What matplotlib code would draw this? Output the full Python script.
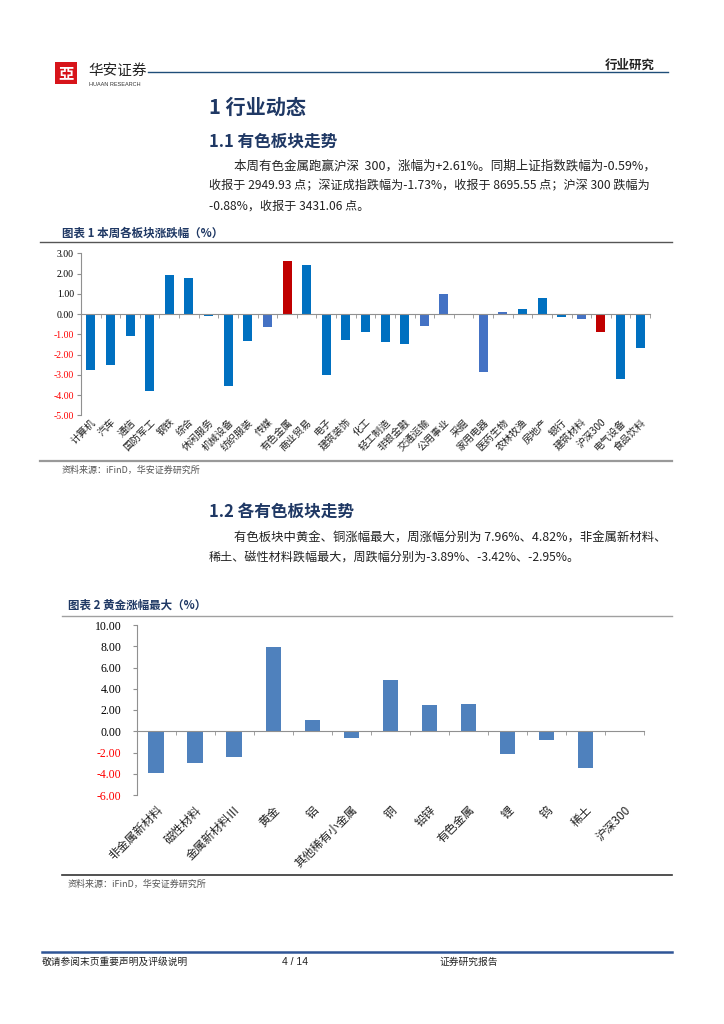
import matplotlib.pyplot as plt
from matplotlib.patches import Rectangle
from matplotlib.lines import Line2D
import numpy as np

plt.rcParams['font.family'] = ['Noto Sans CJK SC', 'DejaVu Sans']

# ---- data ----
sectors = ['计算机', '汽车', '通信', '国防军工', '钢铁', '综合', '休闲服务', '机械设备',
           '纺织服装', '传媒', '有色金属', '商业贸易', '电子', '建筑装饰', '化工', '轻工制造',
           '非银金融', '交通运输', '公用事业', '采掘', '家用电器', '医药生物', '农林牧渔',
           '房地产', '银行', '建筑材料', '沪深300', '电气设备', '食品饮料']
sector_chg = [-2.74, -2.50, -1.08, -3.78, 1.94, 1.79, -0.10, -3.53,
              -1.35, -0.62, 2.61, 2.43, -2.99, -1.26, -0.87, -1.36,
              -1.48, -0.59, 1.02, 0.00, -2.86, 0.11, 0.26,
              0.80, -0.16, -0.25, -0.88, -3.19, -1.69]

metals = ['非金属新材料', '磁性材料', '金属新材料Ⅲ', '黄金', '铝', '其他稀有小金属',
          '铜', '铅锌', '有色金属', '锂', '钨', '稀土', '沪深300']
metal_chg = [-3.89, -2.95, -2.41, 7.96, 1.07, -0.63,
             4.82, 2.48, 2.57, -2.10, -0.78, -3.42, 0.00]

# ---- styling ----
DARK = '#0070C0'
LIGHT = '#4472C4'
RED = '#C00000'
NAVY = '#1F3864'
light_set = {'传媒', '交通运输', '公用事业', '家用电器', '医药生物', '建筑材料'}
red_set = {'有色金属', '沪深300'}
sector_colors = [RED if s in red_set else (LIGHT if s in light_set else DARK) for s in sectors]

W, H = 724, 1024
fig = plt.figure(figsize=(W / 100, H / 100), dpi=100)


def fx(x):
    return x / W


def fy(y):
    return 1 - y / H


def text(x, y, s, **kw):
    kw.setdefault('va', 'center')
    fig.text(fx(x), fy(y), s, **kw)


def hline(x0, x1, y, color, lw):
    fig.add_artist(Line2D([fx(x0), fx(x1)], [fy(y), fy(y)], color=color, lw=lw,
                          transform=fig.transFigure))


def axes_px(left, top, right, bottom):
    return fig.add_axes([fx(left), fy(bottom), (right - left) / W, (bottom - top) / H])


# ---- header ----
fig.add_artist(Rectangle((fx(55), fy(84)), 22 / W, 22 / H, transform=fig.transFigure,
                         facecolor='#D7141A', edgecolor='none'))
text(66, 73, '亞', color='white', fontsize=11, ha='center', fontweight='bold')
text(88, 71, '华安证券', fontsize=10.5, color='#222222')
text(89, 84, 'HUAAN RESEARCH', fontsize=4, color='#333333', family='Liberation Sans')
hline(148, 668, 72, '#1F4E79', 1.0)
text(605, 65, '行业研究', fontsize=9, fontweight='bold', color='#222222')

# ---- section 1 ----
text(209, 107, '1 行业动态', fontsize=14.5, fontweight='bold', color=NAVY)
text(209, 142, '1.1 有色板块走势', fontsize=12, fontweight='bold', color=NAVY)
para1 = ['本周有色金属跑赢沪深  300，涨幅为+2.61%。同期上证指数跌幅为-0.59%，',
         '收报于 2949.93 点；深证成指跌幅为-1.73%，收报于 8695.55 点；沪深 300 跌幅为',
         '-0.88%，收报于 3431.06 点。']
text(234, 166, para1[0], fontsize=9.0, color='#222222')
text(209, 186, para1[1], fontsize=8.7, color='#222222')
text(209, 206, para1[2], fontsize=8.7, color='#222222')

# ---- chart 1 ----
text(62, 233, '图表 1 本周各板块涨跌幅（%）', fontsize=8.3, fontweight='bold', color=NAVY)
hline(40, 672, 242, '#555555', 1.0)

ax1 = axes_px(81, 253.5, 650, 415.3)
x1 = np.arange(len(sectors))
ax1.bar(x1, sector_chg, width=0.46, color=sector_colors)
ax1.set_xlim(-0.5, len(sectors) - 0.5)
ax1.set_ylim(-5, 3)
ax1.set_yticks(np.arange(-5, 4, 1))
ax1.set_yticklabels([f'{v:.2f}' for v in np.arange(-5, 4, 1)], family='Liberation Serif', fontsize=7)
for lab, v in zip(ax1.get_yticklabels(), np.arange(-5, 4, 1)):
    lab.set_color('red' if v < 0 else 'black')
for s in ['top', 'right']:
    ax1.spines[s].set_visible(False)
ax1.spines['left'].set_color('#909090')
ax1.spines['bottom'].set_color('#909090')
ax1.spines['bottom'].set_position(('data', 0))
ax1.tick_params(axis='y', length=3, color='#909090', pad=2)
ax1.set_xticks(x1)
ax1.set_xticklabels(sectors, rotation=45, ha='right', va='top', rotation_mode='anchor',
                    fontsize=7.2, color='#222222')
ax1.tick_params(axis='x', which='major', length=0, pad=74)
ax1.set_xticks(np.arange(0.5, len(sectors) - 0.4, 1), minor=True)
ax1.tick_params(axis='x', which='minor', length=3, color='#909090', direction='out')
hline(40, 672, 461, '#999999', 1.6)
text(62, 470, '资料来源：iFinD，华安证券研究所', fontsize=6.5, color='#555555')

# ---- section 1.2 ----
text(209, 512, '1.2 各有色板块走势', fontsize=12, fontweight='bold', color=NAVY)
text(234, 538, '有色板块中黄金、铜涨幅最大，周涨幅分别为 7.96%、4.82%，非金属新材料、',
     fontsize=8.9, color='#222222')
text(209, 558, '稀土、磁性材料跌幅最大，周跌幅分别为-3.89%、-3.42%、-2.95%。',
     fontsize=8.7, color='#222222')

# ---- chart 2 ----
text(68, 605, '图表 2 黄金涨幅最大（%）', fontsize=8.3, fontweight='bold', color=NAVY)
hline(62, 672, 616, '#A0A0A0', 1.0)

ax2 = axes_px(136.5, 625, 644, 795)
x2 = np.arange(len(metals))
ax2.bar(x2, metal_chg, width=0.39, color='#4F81BD')
ax2.set_xlim(-0.5, len(metals) - 0.5)
ax2.set_ylim(-6, 10)
yt2 = np.arange(-6, 11, 2)
ax2.set_yticks(yt2)
ax2.set_yticklabels([f'{v:.2f}' for v in yt2], family='Liberation Serif', fontsize=8.5)
for lab, v in zip(ax2.get_yticklabels(), yt2):
    lab.set_color('red' if v < 0 else 'black')
for s in ['top', 'right']:
    ax2.spines[s].set_visible(False)
ax2.spines['left'].set_color('#909090')
ax2.spines['bottom'].set_color('#909090')
ax2.spines['bottom'].set_position(('data', 0))
ax2.tick_params(axis='y', length=3, color='#909090', pad=8)
ax2.set_xticks(x2)
ax2.set_xticklabels(metals, rotation=45, ha='right', va='top', rotation_mode='anchor',
                    fontsize=8.5, color='#222222')
ax2.tick_params(axis='x', which='major', length=0, pad=52)
ax2.set_xticks(np.arange(0.5, len(metals) - 0.4, 1), minor=True)
ax2.tick_params(axis='x', which='minor', length=3, color='#909090', direction='out')
hline(62, 672, 875, '#333333', 1.2)
text(68, 884, '资料来源：iFinD，华安证券研究所', fontsize=6.5, color='#555555')

# ---- footer ----
hline(42, 672, 952, '#2F5597', 1.8)
text(42, 962, '敬请参阅末页重要声明及评级说明', fontsize=7, color='#222222')
text(282, 962, '4 / 14', fontsize=7.5, color='#222222', family='Liberation Sans')
text(440, 962, '证券研究报告', fontsize=7, color='#222222')

fig.savefig('out.png', dpi=100)
